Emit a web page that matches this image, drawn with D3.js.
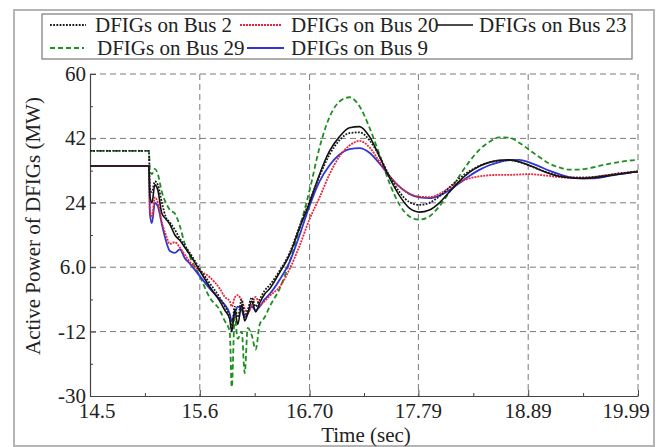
<!DOCTYPE html>
<html><head><meta charset="utf-8">
<script src="https://cdn.jsdelivr.net/npm/d3@7"></script>
<style>
body{margin:0;background:#fff}
svg{display:block}
svg text{font-family:"Liberation Serif","DejaVu Serif","Noto Serif","Times New Roman",serif !important;fill:#222}
</style>
</head><body><svg id="c" width="661" height="447" font-family="Liberation Serif, DejaVu Serif, serif"></svg>
<script>
// ---- data ----
const time = [14.5, 15.09, 15.1, 15.12, 15.15, 15.18, 15.22, 15.26, 15.3, 15.35, 15.4, 15.45, 15.5,
  15.6, 15.7, 15.8, 15.85, 15.9, 15.92, 15.95, 15.98, 16.02, 16.05, 16.08, 16.12, 16.16, 16.2, 16.25, 16.3,
  16.4, 16.5, 16.6, 16.7, 16.8, 16.9, 17.0, 17.1, 17.2, 17.3, 17.4, 17.5, 17.6, 17.7, 17.8, 17.9,
  18.0, 18.1, 18.2, 18.3, 18.4, 18.5, 18.6, 18.7, 18.8, 18.9, 19.0, 19.1, 19.2, 19.3, 19.4, 19.5, 19.6, 19.7, 19.8, 19.9, 19.99];
const bus2 = [38.5, 38.5, 28, 27, 30, 29, 24, 20, 18.5, 16.5, 14, 12, 10,
  5.5, 1.5, -2.5, -5, -8, -10.5, -5, -8, -3, -7.5, -6, -2.5, -5, -3, -0.5, 1,
  5, 10, 17.5, 24.5, 31.5, 37.5, 41.5, 43.5, 43.7, 41.5, 37, 31.5, 27, 24.2, 23.4, 24,
  25.8, 28.3, 30.8, 32.8, 34.3, 35.3, 35.8, 35.9, 35.4, 34.4, 33.3, 32.3, 31.5, 31.1, 31, 31.1, 31.4, 31.8, 32.2, 32.5, 32.8];
const bus20 = [34.3, 34.3, 22, 20, 25.5, 24, 18.5, 15, 12.5, 13, 11.5, 9.5, 7.5,
  5, 3.2, 0, -2.3, -3.5, -5, -2.5, -1.8, -3.5, -5.5, -6.8, -4.5, -2.3, -4.5, -3.5, -2,
  0.5, 5.5, 12, 19.5, 25.5, 32, 37, 40, 41.3, 39.5, 35.5, 31.5, 28.5, 26.5, 25.7, 25.6,
  26.5, 28.2, 29.8, 30.8, 31.4, 31.7, 31.8, 31.8, 31.9, 32, 31.8, 31.5, 31.2, 31, 31, 31.1, 31.4, 31.8, 32.2, 32.5, 32.8];
const bus23 = [34.3, 34.3, 26, 24, 29, 27.5, 21, 19.5, 18, 15, 13.5, 11.5, 9.5,
  5, 0.5, -3.5, -6, -8.5, -12, -6, -10, -4.5, -9, -7, -3.5, -6.5, -4, -1.5, 0,
  4.5, 9.5, 17, 24, 32, 38.5, 42.5, 45, 45.3, 42.5, 37, 31, 26, 22.5, 21.4, 22,
  24, 27, 30, 32.5, 34.2, 35.3, 35.9, 36, 35.5, 34.5, 33.3, 32.2, 31.4, 31, 30.8, 30.9, 31.2, 31.6, 32, 32.4, 32.7];
const bus29 = [38.5, 38.5, 33, 32, 33.5, 32, 27, 24, 22, 21, 17.5, 12.5, 9,
  3.5, -2.5, -6, -9, -12, -27.5, -8, -14, -12, -23.6, -11, -13, -17, -10, -8, -5,
  0, 7.5, 17, 27.5, 39.5, 48, 52.3, 53.5, 51, 45, 37.5, 29.5, 23.5, 20.2, 19.3, 20.2,
  23, 27, 31.5, 35.5, 38.8, 41, 42.3, 42.2, 40.8, 38.8, 36.8, 35, 33.9, 33.3, 33.3, 33.7, 34.3, 34.9, 35.4, 35.8, 36];
const bus9 = [34.3, 34.3, 21, 18.3, 24, 23, 18, 13.5, 10.5, 10, 11, 8.5, 7,
  3.5, 0, -3, -4.5, -7, -9, -7, -5, -6, -8, -7, -5, -6, -5, -3, -1.5,
  2.5, 7.5, 15, 23.2, 30, 34.5, 37.5, 39, 39.3, 38, 35, 31.5, 28.5, 26.5, 25.5, 25.3,
  26, 27.5, 29.5, 31.5, 33.2, 34.5, 35.4, 35.9, 36, 35.3, 34.2, 33, 32, 31.2, 30.9, 30.8, 31, 31.5, 32, 32.4, 32.7];
const seriesNames = ["DFIGs on Bus 2", "DFIGs on Bus 20", "DFIGs on Bus 23", "DFIGs on Bus 29", "DFIGs on Bus 9"];
const xTicks = [14.5, 15.6, 16.70, 17.79, 18.89, 19.99];
const xTickLabels = ["14.5", "15.6", "16.70", "17.79", "18.89", "19.99"];
const yTicks = [60, 42, 24, 6, -12, -30];
const yTickLabels = ["60", "42", "24", "6.0", "-12", "-30"];
const xTitle = "Time (sec)";
const yTitle = "Active Power of DFIGs (MW)";

// ---- styles ----
const FONT = "Liberation Serif, DejaVu Serif, serif";
const styles = [
  {color: "#1a1a1a", dash: "1.8,1.4", width: 1.8},
  {color: "#e8283a", dash: "2,1", width: 1.8},
  {color: "#111111", dash: null, width: 1.6},
  {color: "#1f8f22", dash: "5,3", width: 1.8},
  {color: "#3434d2", dash: null, width: 1.8}
];
const seriesValues = [bus2, bus20, bus23, bus29, bus9];
const series = seriesNames.map((n, i) => ({name: n, values: seriesValues[i], style: styles[i]}));

const svg = d3.select("#c");
const L = 90, R = 638, T = 74, B = 396;
const x = d3.scaleLinear().domain([xTicks[0], xTicks[xTicks.length - 1]]).range([L, R]);
const y = d3.scaleLinear().domain([yTicks[yTicks.length - 1], yTicks[0]]).range([B, T]);

// outer frame
svg.append("rect").attr("x", 14).attr("y", 10).attr("width", 640).attr("height", 436)
  .attr("fill", "#fff").attr("stroke", "#b4b4b4").attr("stroke-width", 2);

// grid
const grid = svg.append("g").attr("stroke", "#7a7a7a").attr("stroke-width", 1).attr("stroke-dasharray", "6,4");
grid.selectAll("line.v").data(xTicks.slice(1)).join("line")
  .attr("x1", d => x(d)).attr("x2", d => x(d)).attr("y1", T).attr("y2", B);
grid.selectAll("line.h").data(yTicks.slice(0, -1)).join("line")
  .attr("x1", L).attr("x2", R).attr("y1", d => y(d)).attr("y2", d => y(d));

// axes
const mid = a => a.slice(1).map((v, i) => (v + a[i]) / 2);
svg.append("g").attr("transform", `translate(0,${B})`)
  .call(d3.axisBottom(x).tickValues(xTicks).tickFormat("").tickSizeInner(-6).tickSizeOuter(0));
svg.append("g").attr("transform", `translate(0,${B})`)
  .call(d3.axisBottom(x).tickValues(mid(xTicks)).tickFormat("").tickSizeInner(-3).tickSizeOuter(0))
  .select(".domain").remove();
svg.append("g").attr("transform", `translate(${L},0)`)
  .call(d3.axisLeft(y).tickValues(yTicks).tickFormat("").tickSizeInner(-6).tickSizeOuter(0));
svg.append("g").attr("transform", `translate(${L},0)`)
  .call(d3.axisLeft(y).tickValues(mid(yTicks)).tickFormat("").tickSizeInner(-3).tickSizeOuter(0))
  .select(".domain").remove();
svg.selectAll(".domain").attr("stroke", "#444").attr("stroke-width", 1.2);
svg.selectAll(".tick line").attr("stroke", "#444");

// tick labels
const xl = svg.append("g").attr("font-size", 21).attr("font-family", FONT);
xl.selectAll("text").data(xTicks).join("text")
  .attr("x", (d, i) => x(d) + (i === 0 ? 7 : i === xTicks.length - 1 ? -12 : 0))
  .attr("y", 418).attr("text-anchor", "middle")
  .text((d, i) => xTickLabels[i]);
const yl = svg.append("g").attr("font-size", 21).attr("font-family", FONT);
yl.selectAll("text").data(yTicks).join("text")
  .attr("x", L - 4).attr("y", d => y(d) + 7).attr("text-anchor", "end")
  .text((d, i) => yTickLabels[i]);

// titles
svg.append("text").attr("x", 366).attr("y", 442).attr("text-anchor", "middle")
  .attr("font-size", 21).attr("font-family", FONT).text(xTitle);
svg.append("text").attr("transform", "translate(40,226) rotate(-90)").attr("text-anchor", "middle")
  .attr("font-size", 21).attr("font-family", FONT).text(yTitle);

// lines
const line = d3.line().x((d, i) => x(time[i])).y(d => y(d)).curve(d3.curveMonotoneX);
const order = [3, 4, 1, 2, 0];
svg.append("g").selectAll("path").data(order.map(i => series[i])).join("path")
  .attr("d", d => line(d.values))
  .attr("fill", "none")
  .attr("stroke", d => d.style.color)
  .attr("stroke-width", d => d.style.width)
  .attr("stroke-dasharray", d => d.style.dash)
  .attr("stroke-linejoin", "round");

// legend
svg.append("rect").attr("x", 42).attr("y", 14).attr("width", 590).attr("height", 45)
  .attr("fill", "#fff").attr("stroke", "#7a7a7a").attr("stroke-width", 1.2);
const legPos = [
  {x1: 50, x2: 86, tx: 95, y: 25},
  {x1: 240, x2: 281, tx: 291, y: 25},
  {x1: 437, x2: 473, tx: 479, y: 25},
  {x1: 50, x2: 84, tx: 97, y: 48},
  {x1: 247, x2: 284, tx: 291, y: 48}
];
const lg = svg.append("g").selectAll("g").data(series).join("g");
lg.append("line")
  .attr("x1", (d, i) => legPos[i].x1).attr("x2", (d, i) => legPos[i].x2)
  .attr("y1", (d, i) => legPos[i].y).attr("y2", (d, i) => legPos[i].y)
  .attr("stroke", d => d.style.color).attr("stroke-width", d => d.style.width)
  .attr("stroke-dasharray", d => d.style.dash);
lg.append("text")
  .attr("x", (d, i) => legPos[i].tx).attr("y", (d, i) => legPos[i].y + 7)
  .attr("font-family", FONT).attr("font-size", 21).text(d => d.name);
</script>
</body></html>
